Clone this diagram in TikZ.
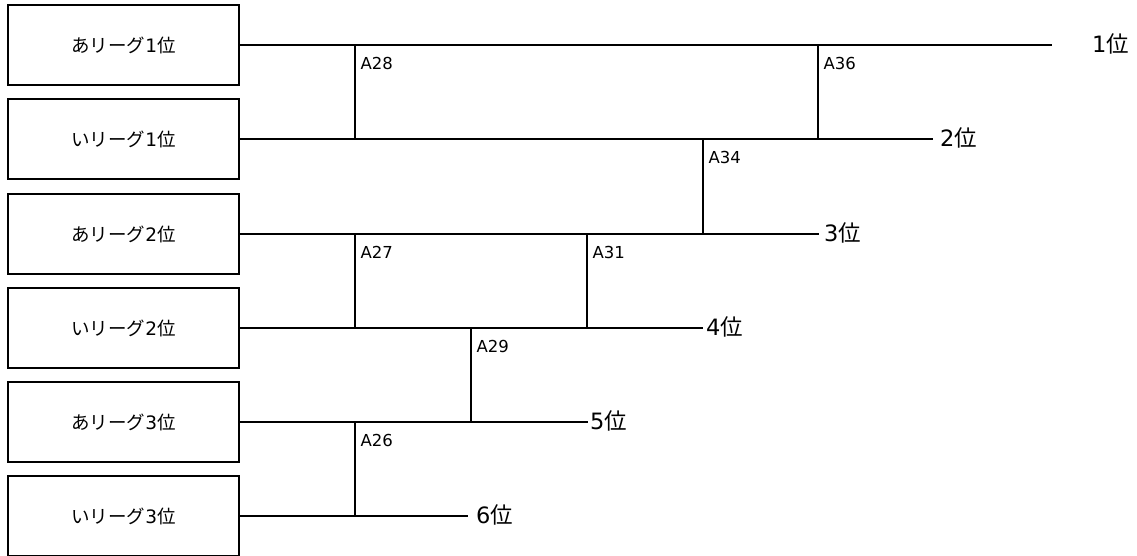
\documentclass[tikz,border=0pt]{standalone}
\usepackage{fontspec}
\setmainfont{DejaVu Sans}
\newfontfamily\jp{Noto Sans CJK JP}
\usetikzlibrary{positioning}
\newcommand\jpi{{\jp 位}}
\tikzset{
team/.style={draw,line width=2pt,minimum width=231pt,minimum height=80pt,inner sep=0pt,font=\fontsize{18.5}{18.5}\selectfont},
game/.style={anchor=north west,inner sep=0pt,font=\fontsize{16.5}{17}\selectfont},
rank/.style={anchor=west,inner sep=0pt,font=\fontsize{22.5}{22.5}\selectfont},
wire/.style={line width=2pt}
}
\begin{document}
\begin{tikzpicture}[x=1pt,y=-1pt]
\useasboundingbox (0,0) rectangle (1137,556);
%league boxes
\node[team] (b1) at (123.5,45) {{\jp あリーグ}1\jpi};
\node[team] (b2) at (123.5,139) {{\jp いリーグ}1\jpi};
\node[team] (b3) at (123.5,234) {{\jp あリーグ}2\jpi};
\node[team] (b4) at (123.5,328) {{\jp いリーグ}2\jpi};
\node[team] (b5) at (123.5,422) {{\jp あリーグ}3\jpi};
\node[team] (b6) at (123.5,516) {{\jp いリーグ}3\jpi};
%line ends
\coordinate (e1) at (1052,45);
\coordinate (e2) at (933,139);
\coordinate (e3) at (819,234);
\coordinate (e4) at (703,328);
\coordinate (e5) at (588,422);
\coordinate (e6) at (468,516);
\foreach \i in {1,...,6}{
\draw[wire] (b\i.east) -- (e\i);
}
%final ranks
\node[rank] (r1) at (1092,44) {1\jpi};
\node[rank] (r2) at (940,138) {2\jpi};
\node[rank] (r3) at (824,233) {3\jpi};
\node[rank] (r4) at (706,327) {4\jpi};
\node[rank] (r5) at (590,421) {5\jpi};
\node[rank] (r6) at (476,515) {6\jpi};
%games
\foreach \x/\t/\b/\g in {355/1/2/28,818/1/2/36,703/2/3/34,355/3/4/27,587/3/4/31,471/4/5/29,355/5/6/26}{
\coordinate (g\g) at (b\t.east -| \x,0);
\draw[wire] (g\g) -- (g\g |- b\b.east);
\node[game] (a\g) at ([shift={(5.5,12.5)}]g\g) {A\g};
}
\end{tikzpicture}
\end{document}
